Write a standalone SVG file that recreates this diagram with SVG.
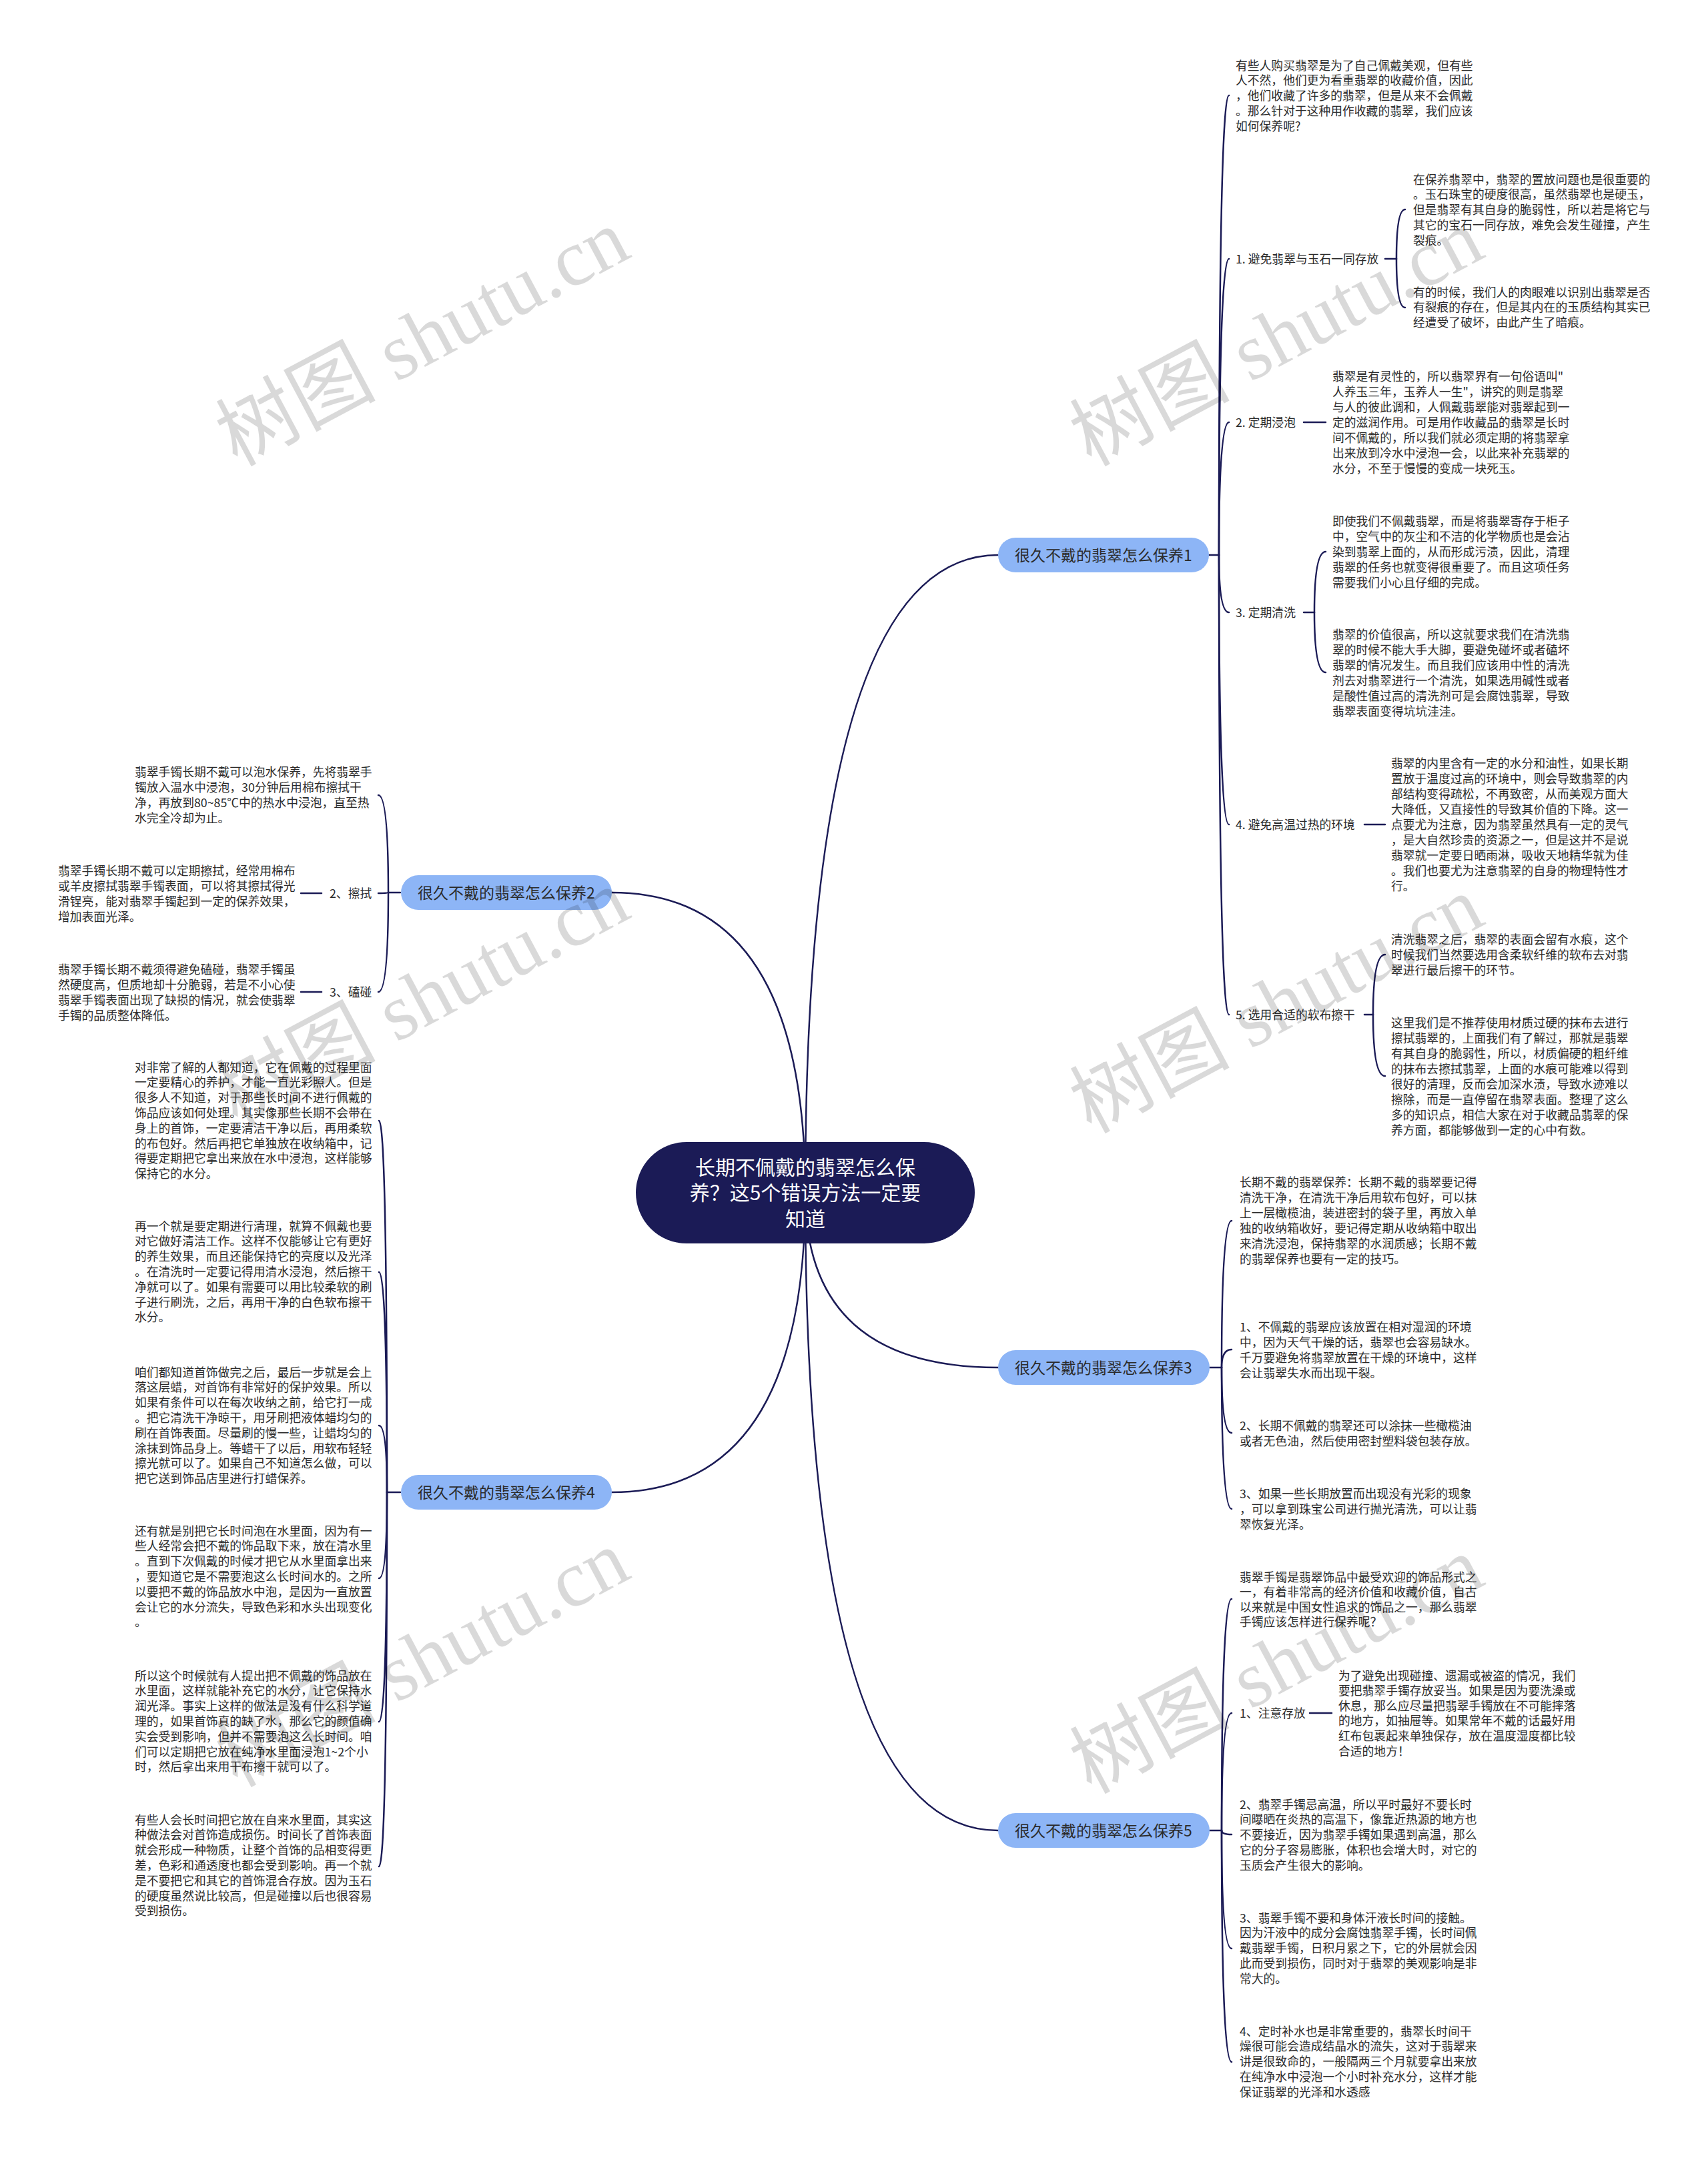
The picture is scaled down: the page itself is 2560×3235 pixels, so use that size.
<svg xmlns="http://www.w3.org/2000/svg" width="2560" height="3235" viewBox="0 0 2560 3235">
<style>
.t{font-family:"Noto Sans CJK SC","Noto Sans",sans-serif;font-size:17.8px;fill:#2b2b2b}
.bt{font-family:"Noto Sans CJK SC","Noto Sans",sans-serif;font-size:23px;fill:#2b2b2b;text-anchor:middle}
.ct{font-family:"Noto Sans CJK SC","Noto Sans",sans-serif;font-size:30px;fill:#ffffff;text-anchor:middle}
.ln{fill:none;stroke:#1b1b56;stroke-width:2.5;stroke-linecap:round}
.bn{fill:#8db5f6}
.wm{font-family:"Liberation Serif","Noto Sans CJK SC",serif;font-size:120px;fill:#000000;fill-opacity:0.15}
</style>
<rect width="2560" height="3235" fill="#ffffff"/>
<g id="connectors">
<path class="ln" d="M1207 1788 Q1207 832 1496 832"/>
<path class="ln" d="M1207 1788 Q1207 1338 917 1338"/>
<path class="ln" d="M1207 1788 Q1207 2050 1496 2050"/>
<path class="ln" d="M1207 1788 Q1207 2237 917 2237"/>
<path class="ln" d="M1207 1788 Q1207 2744 1496 2744"/>
<path class="ln" d="M1812 832 H1827"/>
<path class="ln" d="M1827 832 Q1827 143 1842 143"/>
<path class="ln" d="M1827 832 Q1827 388 1842 388"/>
<path class="ln" d="M1827 832 Q1827 633 1842 633"/>
<path class="ln" d="M1827 832 Q1827 918 1842 918"/>
<path class="ln" d="M1827 832 Q1827 1236 1842 1236"/>
<path class="ln" d="M1827 832 Q1827 1521 1842 1521"/>
<path class="ln" d="M2076 388 H2093"/>
<path class="ln" d="M2093 388 Q2093 314 2106 314"/>
<path class="ln" d="M2093 388 Q2093 461 2106 461"/>
<path class="ln" d="M1954 633 H1987"/>
<path class="ln" d="M1954 918 H1970"/>
<path class="ln" d="M1970 918 Q1970 827 1987 827"/>
<path class="ln" d="M1970 918 Q1970 1008 1987 1008"/>
<path class="ln" d="M2045 1236 H2076"/>
<path class="ln" d="M2045 1521 H2058"/>
<path class="ln" d="M2058 1521 Q2058 1431 2076 1431"/>
<path class="ln" d="M2058 1521 Q2058 1613 2076 1613"/>
<path class="ln" d="M1813 2050 H1831"/>
<path class="ln" d="M1831 2050 Q1831 1830 1846 1830"/>
<path class="ln" d="M1831 2050 Q1831 2023 1846 2023"/>
<path class="ln" d="M1831 2050 Q1831 2148 1846 2148"/>
<path class="ln" d="M1831 2050 Q1831 2262 1846 2262"/>
<path class="ln" d="M1813 2744 H1831"/>
<path class="ln" d="M1831 2744 Q1831 2397 1846 2397"/>
<path class="ln" d="M1831 2744 Q1831 2568 1846 2568"/>
<path class="ln" d="M1831 2744 Q1831 2750 1846 2750"/>
<path class="ln" d="M1831 2744 Q1831 2921 1846 2921"/>
<path class="ln" d="M1831 2744 Q1831 3091 1846 3091"/>
<path class="ln" d="M1963 2568 H1996"/>
<path class="ln" d="M600 1338 H582"/>
<path class="ln" d="M582 1338 Q582 1192 567 1192"/>
<path class="ln" d="M582 1338 Q582 1339 567 1339"/>
<path class="ln" d="M582 1338 Q582 1487 567 1487"/>
<path class="ln" d="M451 1339 H482"/>
<path class="ln" d="M451 1487 H482"/>
<path class="ln" d="M600 2237 H580"/>
<path class="ln" d="M580 2237 Q580 1680 568 1680"/>
<path class="ln" d="M580 2237 Q580 1907 568 1907"/>
<path class="ln" d="M580 2237 Q580 2137 568 2137"/>
<path class="ln" d="M580 2237 Q580 2366 568 2366"/>
<path class="ln" d="M580 2237 Q580 2581 568 2581"/>
<path class="ln" d="M580 2237 Q580 2798 568 2798"/>
</g>
<g id="center">
<rect x="953" y="1712" width="508" height="152" rx="76" fill="#1b1b56"/>
<text class="ct" x="1207" y="1761">长期不佩戴的翡翠怎么保</text>
<text class="ct" x="1207" y="1799">养？这5个错误方法一定要</text>
<text class="ct" x="1207" y="1838">知道</text>
</g>
<g id="branch1">
<rect class="bn" x="1496" y="806" width="316" height="52" rx="26"/>
<text class="bt" x="1654" y="840.5">很久不戴的翡翠怎么保养1</text>
</g>
<g id="branch2">
<rect class="bn" x="601" y="1312" width="316" height="52" rx="26"/>
<text class="bt" x="759" y="1346.5">很久不戴的翡翠怎么保养2</text>
</g>
<g id="branch3">
<rect class="bn" x="1496" y="2024" width="317" height="52" rx="26"/>
<text class="bt" x="1654" y="2058.5">很久不戴的翡翠怎么保养3</text>
</g>
<g id="branch4">
<rect class="bn" x="601" y="2211" width="316" height="52" rx="26"/>
<text class="bt" x="759" y="2245.5">很久不戴的翡翠怎么保养4</text>
</g>
<g id="branch5">
<rect class="bn" x="1496" y="2718" width="317" height="52" rx="26"/>
<text class="bt" x="1654" y="2752.5">很久不戴的翡翠怎么保养5</text>
</g>
<g id="b1-intro"><text class="t" x="1852" y="104.5"><tspan>有些人购买翡翠是为了自己佩戴美观，但有些</tspan><tspan x="1852" dy="22.8">人不然，他们更为看重翡翠的收藏价值，因此</tspan><tspan x="1852" dy="22.8">，他们收藏了许多的翡翠，但是从来不会佩戴</tspan><tspan x="1852" dy="22.8">。那么针对于这种用作收藏的翡翠，我们应该</tspan><tspan x="1852" dy="22.8">如何保养呢?</tspan></text></g>
<g id="b1-l1"><text class="t" x="1852" y="394.5">1. 避免翡翠与玉石一同存放</text></g>
<g id="b1-l1a"><text class="t" x="2118" y="275.5"><tspan>在保养翡翠中，翡翠的置放问题也是很重要的</tspan><tspan x="2118" dy="22.8">。玉石珠宝的硬度很高，虽然翡翠也是硬玉，</tspan><tspan x="2118" dy="22.8">但是翡翠有其自身的脆弱性，所以若是将它与</tspan><tspan x="2118" dy="22.8">其它的宝石一同存放，难免会发生碰撞，产生</tspan><tspan x="2118" dy="22.8">裂痕。</tspan></text></g>
<g id="b1-l1b"><text class="t" x="2118" y="444.5"><tspan>有的时候，我们人的肉眼难以识别出翡翠是否</tspan><tspan x="2118" dy="22.8">有裂痕的存在，但是其内在的玉质结构其实已</tspan><tspan x="2118" dy="22.8">经遭受了破坏，由此产生了暗痕。</tspan></text></g>
<g id="b1-l2"><text class="t" x="1852" y="639.5">2. 定期浸泡</text></g>
<g id="b1-l2a"><text class="t" x="1997" y="570.5"><tspan>翡翠是有灵性的，所以翡翠界有一句俗语叫"</tspan><tspan x="1997" dy="23">人养玉三年，玉养人一生"，讲究的则是翡翠</tspan><tspan x="1997" dy="23">与人的彼此调和，人佩戴翡翠能对翡翠起到一</tspan><tspan x="1997" dy="23">定的滋润作用。可是用作收藏品的翡翠是长时</tspan><tspan x="1997" dy="23">间不佩戴的，所以我们就必须定期的将翡翠拿</tspan><tspan x="1997" dy="23">出来放到冷水中浸泡一会，以此来补充翡翠的</tspan><tspan x="1997" dy="23">水分，不至于慢慢的变成一块死玉。</tspan></text></g>
<g id="b1-l3"><text class="t" x="1852" y="924.5">3. 定期清洗</text></g>
<g id="b1-l3a"><text class="t" x="1997" y="787.5"><tspan>即使我们不佩戴翡翠，而是将翡翠寄存于柜子</tspan><tspan x="1997" dy="23">中，空气中的灰尘和不洁的化学物质也是会沾</tspan><tspan x="1997" dy="23">染到翡翠上面的，从而形成污渍，因此，清理</tspan><tspan x="1997" dy="23">翡翠的任务也就变得很重要了。而且这项任务</tspan><tspan x="1997" dy="23">需要我们小心且仔细的完成。</tspan></text></g>
<g id="b1-l3b"><text class="t" x="1997" y="957.5"><tspan>翡翠的价值很高，所以这就要求我们在清洗翡</tspan><tspan x="1997" dy="23">翠的时候不能大手大脚，要避免碰坏或者磕坏</tspan><tspan x="1997" dy="23">翡翠的情况发生。而且我们应该用中性的清洗</tspan><tspan x="1997" dy="23">剂去对翡翠进行一个清洗，如果选用碱性或者</tspan><tspan x="1997" dy="23">是酸性值过高的清洗剂可是会腐蚀翡翠，导致</tspan><tspan x="1997" dy="23">翡翠表面变得坑坑洼洼。</tspan></text></g>
<g id="b1-l4"><text class="t" x="1852" y="1242.5">4. 避免高温过热的环境</text></g>
<g id="b1-l4a"><text class="t" x="2085" y="1150.5"><tspan>翡翠的内里含有一定的水分和油性，如果长期</tspan><tspan x="2085" dy="23">置放于温度过高的环境中，则会导致翡翠的内</tspan><tspan x="2085" dy="23">部结构变得疏松，不再致密，从而美观方面大</tspan><tspan x="2085" dy="23">大降低，又直接性的导致其价值的下降。这一</tspan><tspan x="2085" dy="23">点要尤为注意，因为翡翠虽然具有一定的灵气</tspan><tspan x="2085" dy="23">，是大自然珍贵的资源之一，但是这并不是说</tspan><tspan x="2085" dy="23">翡翠就一定要日晒雨淋，吸收天地精华就为佳</tspan><tspan x="2085" dy="23">。我们也要尤为注意翡翠的自身的物理特性才</tspan><tspan x="2085" dy="23">行。</tspan></text></g>
<g id="b1-l5"><text class="t" x="1852" y="1527.5">5. 选用合适的软布擦干</text></g>
<g id="b1-l5a"><text class="t" x="2085" y="1414.5"><tspan>清洗翡翠之后，翡翠的表面会留有水痕，这个</tspan><tspan x="2085" dy="23">时候我们当然要选用含柔软纤维的软布去对翡</tspan><tspan x="2085" dy="23">翠进行最后擦干的环节。</tspan></text></g>
<g id="b1-l5b"><text class="t" x="2085" y="1539.5"><tspan>这里我们是不推荐使用材质过硬的抹布去进行</tspan><tspan x="2085" dy="23">擦拭翡翠的，上面我们有了解过，那就是翡翠</tspan><tspan x="2085" dy="23">有其自身的脆弱性，所以，材质偏硬的粗纤维</tspan><tspan x="2085" dy="23">的抹布去擦拭翡翠，上面的水痕可能难以得到</tspan><tspan x="2085" dy="23">很好的清理，反而会加深水渍，导致水迹难以</tspan><tspan x="2085" dy="23">擦除，而是一直停留在翡翠表面。整理了这么</tspan><tspan x="2085" dy="23">多的知识点，相信大家在对于收藏品翡翠的保</tspan><tspan x="2085" dy="23">养方面，都能够做到一定的心中有数。</tspan></text></g>
<g id="b3-intro"><text class="t" x="1858" y="1778.5"><tspan>长期不戴的翡翠保养：长期不戴的翡翠要记得</tspan><tspan x="1858" dy="23">清洗干净，在清洗干净后用软布包好，可以抹</tspan><tspan x="1858" dy="23">上一层橄榄油，装进密封的袋子里，再放入单</tspan><tspan x="1858" dy="23">独的收纳箱收好，要记得定期从收纳箱中取出</tspan><tspan x="1858" dy="23">来清洗浸泡，保持翡翠的水润质感；长期不戴</tspan><tspan x="1858" dy="23">的翡翠保养也要有一定的技巧。</tspan></text></g>
<g id="b3-1"><text class="t" x="1858" y="1995.5"><tspan>1、不佩戴的翡翠应该放置在相对湿润的环境</tspan><tspan x="1858" dy="23">中，因为天气干燥的话，翡翠也会容易缺水。</tspan><tspan x="1858" dy="23">千万要避免将翡翠放置在干燥的环境中，这样</tspan><tspan x="1858" dy="23">会让翡翠失水而出现干裂。</tspan></text></g>
<g id="b3-2"><text class="t" x="1858" y="2143.5"><tspan>2、长期不佩戴的翡翠还可以涂抹一些橄榄油</tspan><tspan x="1858" dy="23">或者无色油，然后使用密封塑料袋包装存放。</tspan></text></g>
<g id="b3-3"><text class="t" x="1858" y="2245.5"><tspan>3、如果一些长期放置而出现没有光彩的现象</tspan><tspan x="1858" dy="23">，可以拿到珠宝公司进行抛光清洗，可以让翡</tspan><tspan x="1858" dy="23">翠恢复光泽。</tspan></text></g>
<g id="b5-intro"><text class="t" x="1858" y="2370.5"><tspan>翡翠手镯是翡翠饰品中最受欢迎的饰品形式之</tspan><tspan x="1858" dy="22.6">一，有着非常高的经济价值和收藏价值，自古</tspan><tspan x="1858" dy="22.6">以来就是中国女性追求的饰品之一，那么翡翠</tspan><tspan x="1858" dy="22.6">手镯应该怎样进行保养呢？</tspan></text></g>
<g id="b5-l1"><text class="t" x="1858" y="2574.5">1、注意存放</text></g>
<g id="b5-l1a"><text class="t" x="2006" y="2518.5"><tspan>为了避免出现碰撞、遗漏或被盗的情况，我们</tspan><tspan x="2006" dy="22.6">要把翡翠手镯存放妥当。如果是因为要洗澡或</tspan><tspan x="2006" dy="22.6">休息，那么应尽量把翡翠手镯放在不可能摔落</tspan><tspan x="2006" dy="22.6">的地方，如抽屉等。如果常年不戴的话最好用</tspan><tspan x="2006" dy="22.6">红布包裹起来单独保存，放在温度湿度都比较</tspan><tspan x="2006" dy="22.6">合适的地方！</tspan></text></g>
<g id="b5-2"><text class="t" x="1858" y="2711.5"><tspan>2、翡翠手镯忌高温，所以平时最好不要长时</tspan><tspan x="1858" dy="22.8">间曝晒在炎热的高温下，像靠近热源的地方也</tspan><tspan x="1858" dy="22.8">不要接近，因为翡翠手镯如果遇到高温，那么</tspan><tspan x="1858" dy="22.8">它的分子容易膨胀，体积也会增大时，对它的</tspan><tspan x="1858" dy="22.8">玉质会产生很大的影响。</tspan></text></g>
<g id="b5-3"><text class="t" x="1858" y="2881.5"><tspan>3、翡翠手镯不要和身体汗液长时间的接触。</tspan><tspan x="1858" dy="22.8">因为汗液中的成分会腐蚀翡翠手镯，长时间佩</tspan><tspan x="1858" dy="22.8">戴翡翠手镯，日积月累之下，它的外层就会因</tspan><tspan x="1858" dy="22.8">此而受到损伤，同时对于翡翠的美观影响是非</tspan><tspan x="1858" dy="22.8">常大的。</tspan></text></g>
<g id="b5-4"><text class="t" x="1858" y="3051.5"><tspan>4、定时补水也是非常重要的，翡翠长时间干</tspan><tspan x="1858" dy="22.8">燥很可能会造成结晶水的流失，这对于翡翠来</tspan><tspan x="1858" dy="22.8">讲是很致命的，一般隔两三个月就要拿出来放</tspan><tspan x="1858" dy="22.8">在纯净水中浸泡一个小时补充水分，这样才能</tspan><tspan x="1858" dy="22.8">保证翡翠的光泽和水透感</tspan></text></g>
<g id="b2-1"><text class="t" x="202" y="1163.5"><tspan>翡翠手镯长期不戴可以泡水保养，先将翡翠手</tspan><tspan x="202" dy="23">镯放入温水中浸泡，30分钟后用棉布擦拭干</tspan><tspan x="202" dy="23">净，再放到80~85℃中的热水中浸泡，直至热</tspan><tspan x="202" dy="23">水完全冷却为止。</tspan></text></g>
<g id="b2-l2"><text class="t" x="494" y="1345.5">2、擦拭</text></g>
<g id="b2-l2a"><text class="t" x="87" y="1311.5"><tspan>翡翠手镯长期不戴可以定期擦拭，经常用棉布</tspan><tspan x="87" dy="23">或羊皮擦拭翡翠手镯表面，可以将其擦拭得光</tspan><tspan x="87" dy="23">滑锃亮，能对翡翠手镯起到一定的保养效果，</tspan><tspan x="87" dy="23">增加表面光泽。</tspan></text></g>
<g id="b2-l3"><text class="t" x="494" y="1493.5">3、磕碰</text></g>
<g id="b2-l3a"><text class="t" x="87" y="1459.5"><tspan>翡翠手镯长期不戴须得避免磕碰，翡翠手镯虽</tspan><tspan x="87" dy="23">然硬度高，但质地却十分脆弱，若是不小心使</tspan><tspan x="87" dy="23">翡翠手镯表面出现了缺损的情况，就会使翡翠</tspan><tspan x="87" dy="23">手镯的品质整体降低。</tspan></text></g>
<g id="b4-1"><text class="t" x="202" y="1606.5"><tspan>对非常了解的人都知道，它在佩戴的过程里面</tspan><tspan x="202" dy="22.8">一定要精心的养护，才能一直光彩照人。但是</tspan><tspan x="202" dy="22.8">很多人不知道，对于那些长时间不进行佩戴的</tspan><tspan x="202" dy="22.8">饰品应该如何处理。其实像那些长期不会带在</tspan><tspan x="202" dy="22.8">身上的首饰，一定要清洁干净以后，再用柔软</tspan><tspan x="202" dy="22.8">的布包好。然后再把它单独放在收纳箱中，记</tspan><tspan x="202" dy="22.8">得要定期把它拿出来放在水中浸泡，这样能够</tspan><tspan x="202" dy="22.8">保持它的水分。</tspan></text></g>
<g id="b4-2"><text class="t" x="202" y="1844.5"><tspan>再一个就是要定期进行清理，就算不佩戴也要</tspan><tspan x="202" dy="22.8">对它做好清洁工作。这样不仅能够让它有更好</tspan><tspan x="202" dy="22.8">的养生效果，而且还能保持它的亮度以及光泽</tspan><tspan x="202" dy="22.8">。在清洗时一定要记得用清水浸泡，然后擦干</tspan><tspan x="202" dy="22.8">净就可以了。如果有需要可以用比较柔软的刷</tspan><tspan x="202" dy="22.8">子进行刷洗，之后，再用干净的白色软布擦干</tspan><tspan x="202" dy="22.8">水分。</tspan></text></g>
<g id="b4-3"><text class="t" x="202" y="2063.5"><tspan>咱们都知道首饰做完之后，最后一步就是会上</tspan><tspan x="202" dy="22.8">落这层蜡，对首饰有非常好的保护效果。所以</tspan><tspan x="202" dy="22.8">如果有条件可以在每次收纳之前，给它打一成</tspan><tspan x="202" dy="22.8">。把它清洗干净晾干，用牙刷把液体蜡均匀的</tspan><tspan x="202" dy="22.8">刷在首饰表面。尽量刷的慢一些，让蜡均匀的</tspan><tspan x="202" dy="22.8">涂抹到饰品身上。等蜡干了以后，用软布轻轻</tspan><tspan x="202" dy="22.8">擦光就可以了。如果自己不知道怎么做，可以</tspan><tspan x="202" dy="22.8">把它送到饰品店里进行打蜡保养。</tspan></text></g>
<g id="b4-4"><text class="t" x="202" y="2301.5"><tspan>还有就是别把它长时间泡在水里面，因为有一</tspan><tspan x="202" dy="22.8">些人经常会把不戴的饰品取下来，放在清水里</tspan><tspan x="202" dy="22.8">。直到下次佩戴的时候才把它从水里面拿出来</tspan><tspan x="202" dy="22.8">，要知道它是不需要泡这么长时间水的。之所</tspan><tspan x="202" dy="22.8">以要把不戴的饰品放水中泡，是因为一直放置</tspan><tspan x="202" dy="22.8">会让它的水分流失，导致色彩和水头出现变化</tspan><tspan x="202" dy="22.8">。</tspan></text></g>
<g id="b4-5"><text class="t" x="202" y="2518.5"><tspan>所以这个时候就有人提出把不佩戴的饰品放在</tspan><tspan x="202" dy="22.8">水里面，这样就能补充它的水分，让它保持水</tspan><tspan x="202" dy="22.8">润光泽。事实上这样的做法是没有什么科学道</tspan><tspan x="202" dy="22.8">理的，如果首饰真的缺了水，那么它的颜值确</tspan><tspan x="202" dy="22.8">实会受到影响，但并不需要泡这么长时间。咱</tspan><tspan x="202" dy="22.8">们可以定期把它放在纯净水里面浸泡1~2个小</tspan><tspan x="202" dy="22.8">时，然后拿出来用干布擦干就可以了。</tspan></text></g>
<g id="b4-6"><text class="t" x="202" y="2734.5"><tspan>有些人会长时间把它放在自来水里面，其实这</tspan><tspan x="202" dy="22.8">种做法会对首饰造成损伤。时间长了首饰表面</tspan><tspan x="202" dy="22.8">就会形成一种物质，让整个首饰的品相变得更</tspan><tspan x="202" dy="22.8">差，色彩和通透度也都会受到影响。再一个就</tspan><tspan x="202" dy="22.8">是不要把它和其它的首饰混合存放。因为玉石</tspan><tspan x="202" dy="22.8">的硬度虽然说比较高，但是碰撞以后也很容易</tspan><tspan x="202" dy="22.8">受到损伤。</tspan></text></g>
<g id="watermarks">
<text class="wm" transform="translate(355 700) rotate(-28)">树图 shutu.cn</text>
<text class="wm" transform="translate(1635 700) rotate(-28)">树图 shutu.cn</text>
<text class="wm" transform="translate(355 1690) rotate(-28)">树图 shutu.cn</text>
<text class="wm" transform="translate(1635 1700) rotate(-28)">树图 shutu.cn</text>
<text class="wm" transform="translate(355 2680) rotate(-28)">树图 shutu.cn</text>
<text class="wm" transform="translate(1635 2690) rotate(-28)">树图 shutu.cn</text>
</g>
</svg>
